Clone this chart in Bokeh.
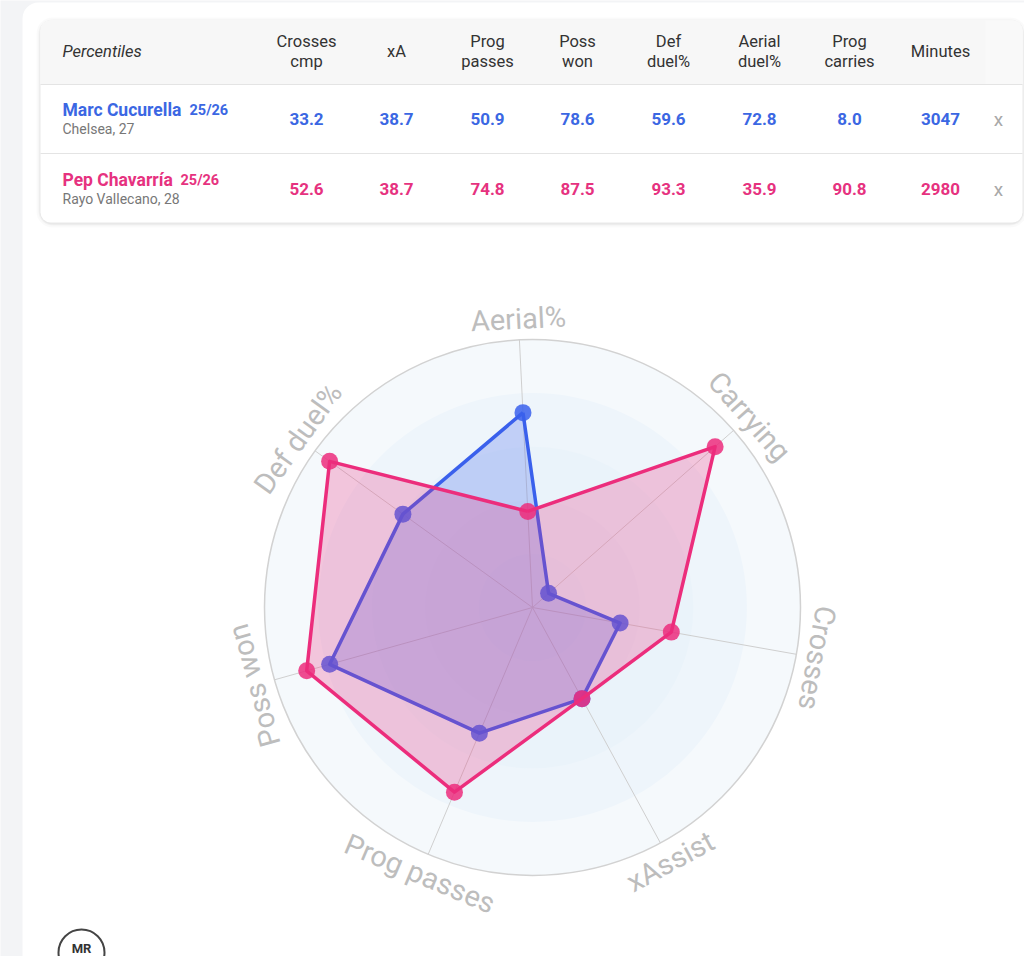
import math
from bokeh.plotting import figure
from bokeh.models import Range1d, BoxAnnotation
from bokeh.core.properties import value
from bokeh.embed import file_html
from bokeh.resources import INLINE

# ---------------- data ----------------
header_line1 = ["Crosses", "xA", "Prog", "Poss", "Def", "Aerial", "Prog", "Minutes"]
header_line2 = ["cmp", "", "passes", "won", "duel%", "duel%", "carries", ""]
players = ["Marc Cucurella", "Pep Chavarría"]
seasons = ["25/26", "25/26"]
clubs = ["Chelsea, 27", "Rayo Vallecano, 28"]
cucurella = [33.2, 38.7, 50.9, 78.6, 59.6, 72.8, 8.0]
chavarria = [52.6, 38.7, 74.8, 87.5, 93.3, 35.9, 90.8]
minutes = [3047, 2980]
radar_labels = ["Aerial%", "Carrying", "Crosses", "xAssist", "Prog passes", "Poss won", "Def duel%"]
radar_index = [5, 6, 0, 1, 2, 3, 4]  # table column feeding each radar axis

# ---------------- layout/style ----------------
W, H = 1024, 956
FONT = value("Roboto")
BLUE_T = "#3b67e3"
PINK_T = "#e6327f"
BLUE = "#3a60ec"
PINK = "#ec2d7c"


def Y(ypx):
    return H - ypx


p = figure(width=W, height=H, x_range=Range1d(0, W), y_range=Range1d(0, H),
           toolbar_location=None, output_backend="svg", min_border=0,
           x_axis_location=None, y_axis_location=None)
p.grid.visible = False
p.outline_line_color = None
p.background_fill_color = "#f3f4f6"
p.border_fill_color = "#f3f4f6"

# white page panel
p.add_layout(BoxAnnotation(left=22, right=W + 30, bottom=-30, top=Y(2), fill_color="white",
                           fill_alpha=1, line_color=None, border_radius=16, level="underlay"))

# card shadow
for d, a in [(4, 0.02), (2, 0.03), (1, 0.04)]:
    p.add_layout(BoxAnnotation(left=40 - d, right=1022 + d, bottom=Y(222 + d + 1), top=Y(20 - d + 1),
                               fill_color="black", fill_alpha=a, line_color=None,
                               border_radius=12 + d, level="underlay"))
p.add_layout(BoxAnnotation(left=40, right=1022, bottom=Y(222), top=Y(20), fill_color="white",
                           fill_alpha=1, line_color=None, border_radius=10, level="underlay"))
p.add_layout(BoxAnnotation(left=40, right=1022, bottom=Y(84), top=Y(20), fill_color="#f7f7f7",
                           fill_alpha=1, line_color=None, border_radius=(10, 10, 0, 0), level="underlay"))
p.add_layout(BoxAnnotation(left=985, right=1022, bottom=Y(84), top=Y(20), fill_color="#f9f9f9",
                           fill_alpha=1, line_color=None, border_radius=(0, 10, 0, 0), level="underlay"))

# row separators
p.segment(x0=[40, 40], y0=[Y(84), Y(153)], x1=[1022, 1022], y1=[Y(84), Y(153)],
          line_color="#e4e4e4", line_width=1.2)

# header
col_x = [306, 396, 487, 577, 668, 759, 849, 940]
p.text(x=[62], y=[Y(51)], text=["Percentiles"], text_font=FONT, text_font_size="16.5px",
       text_font_style="italic", text_color="#333333", text_align="left", text_baseline="middle")
for cx, l1, l2 in zip(col_x, header_line1, header_line2):
    if l2:
        p.text(x=[cx, cx], y=[Y(41), Y(61)], text=[l1, l2], text_font=FONT, text_font_size="16.5px",
               text_color="#333333", text_align="center", text_baseline="middle")
    else:
        p.text(x=[cx], y=[Y(51)], text=[l1], text_font=FONT, text_font_size="16.5px",
               text_color="#333333", text_align="center", text_baseline="middle")

# rows
rows = [cucurella, chavarria]
colors = [BLUE_T, PINK_T]
row_y = [118, 188]
season_x = [189, 180]
for i in range(2):
    ry = row_y[i]
    p.text(x=[62], y=[Y(ry - 9)], text=[players[i]], text_font=FONT, text_font_size="17.5px",
           text_font_style="bold", text_color=colors[i], text_align="left", text_baseline="middle")
    p.text(x=[season_x[i]], y=[Y(ry - 8.5)], text=[seasons[i]], text_font=FONT, text_font_size="14.5px",
           text_font_style="bold", text_color=colors[i], text_align="left", text_baseline="middle")
    p.text(x=[62], y=[Y(ry + 10)], text=[clubs[i]], text_font=FONT, text_font_size="14px",
           text_color="#777777", text_align="left", text_baseline="middle")
    vals = ["%.1f" % v for v in rows[i]] + [str(minutes[i])]
    p.text(x=col_x, y=[Y(ry)] * len(col_x), text=vals, text_font=FONT, text_font_size="17px",
           text_font_style="bold", text_color=colors[i], text_align="center", text_baseline="middle")
    p.text(x=[998], y=[Y(ry + 1)], text=["x"], text_font=FONT, text_font_size="19px",
           text_color="#a8a8a8", text_align="center", text_baseline="middle")

# ---------------- radar ----------------
CX, CY = 532, Y(607)
R = 268.0
OFF = -2.8
n = len(radar_labels)
thetas = [math.radians(OFF + k * 360.0 / n) for k in range(n)]

# background bands
band_colors = ["#f5f9fc", "#eef5fb", "#eaf3fa", "#e7f1f9", "#e4eff8"]
for j, c in enumerate(band_colors):
    rr = R * (1.0 - 0.2 * j)
    p.circle(x=[CX], y=[CY], radius=rr, fill_color=c, line_color=None)
p.circle(x=[CX], y=[CY], radius=R, fill_color=None, line_color="#d2d2d2", line_width=1.5)

# spokes
p.segment(x0=[CX] * n, y0=[CY] * n,
          x1=[CX + R * math.sin(t) for t in thetas], y1=[CY + R * math.cos(t) for t in thetas],
          line_color="#cfcfcf", line_width=1)


def draw_player(vals, col, fill_alpha):
    rv = [vals[i] for i in radar_index]
    xs = [CX + R * v / 100.0 * math.sin(t) for v, t in zip(rv, thetas)]
    ys = [CY + R * v / 100.0 * math.cos(t) for v, t in zip(rv, thetas)]
    p.patch(x=xs, y=ys, fill_color=col, fill_alpha=fill_alpha, line_color=None)
    p.line(x=xs + xs[:1], y=ys + ys[:1], line_color=col, line_width=3.5, line_join="round")
    p.scatter(x=xs, y=ys, size=17, fill_color=col, fill_alpha=0.85, line_color=None)


draw_player(cucurella, BLUE, 0.25)
draw_player(chavarria, PINK, 0.25)

# axis labels (tangential)
LR = R + 21
lx, ly, la = [], [], []
for t in thetas:
    deg = math.degrees(t) % 360
    lx.append(CX + LR * math.sin(t))
    ly.append(CY + LR * math.cos(t))
    if 135 < deg < 225:
        la.append(-(t - math.pi))
    else:
        la.append(-t)
p.text(x=lx, y=ly, text=radar_labels, angle=la, text_font=FONT, text_font_size="29px",
       text_color="#bdbdbd", text_align="center", text_baseline="middle")

# logo at bottom-left
p.circle(x=[81], y=[Y(952)], radius=23, fill_color="white", line_color="#444444", line_width=2)
p.text(x=[81], y=[Y(948)], text=["MR"], text_font=FONT, text_font_size="13px", text_font_style="bold",
       text_color="#333333", text_align="center", text_baseline="middle")

open("out.html", "w").write(file_html(p, INLINE))
